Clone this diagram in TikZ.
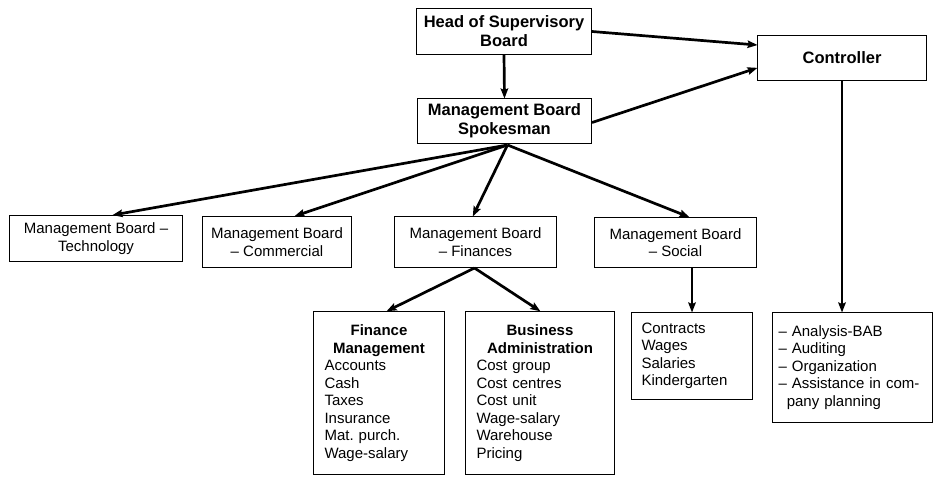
\documentclass[tikz,border=0pt]{standalone}
\usepackage{fontspec}
\setmainfont{Liberation Sans}
\usetikzlibrary{arrows.meta,calc}
\frenchspacing

\tikzset{
  box/.style={draw, line width=1pt, anchor=north west, inner sep=0pt,
    font=\fontsize{15}{17.5}\selectfont, align=center},
  headbox/.style={box, font=\fontsize{16.5}{19}\selectfont\bfseries},
  listbox/.style={draw, line width=1pt, anchor=north west, inner ysep=0pt,
    font=\fontsize{15}{17.5}\selectfont, align=left},
  link/.style={line width=2.7pt, -{Stealth[length=10pt,width=7.5pt,inset=1.5pt]}, shorten >=-0.5pt}
}

\newcommand{\ctitle}[1]{\makebox[\linewidth]{\bfseries #1}}

\begin{document}
\begin{tikzpicture}[x=1pt,y=-1pt]
\useasboundingbox (0,0) rectangle (933,476);

% top level
\node[headbox, minimum width=175pt, minimum height=46pt] (head) at (416,8)
  {Head of Supervisory\\Board};
\node[headbox, minimum width=174pt, minimum height=45pt] (spokes) at (417,98)
  {Management Board\\Spokesman};
\node[headbox, minimum width=169pt, minimum height=45pt] (ctrl) at (757,35)
  {Controller};

% board members
\node[box, minimum width=173pt, minimum height=46pt] (tech) at (9,215)
  {Management Board --\\Technology};
\node[box, minimum width=149pt, minimum height=51pt] (comm) at (202,216)
  {Management Board\\-- Commercial};
\node[box, minimum width=162pt, minimum height=51pt] (fin) at (394,216)
  {Management Board\\-- Finances};
\node[box, minimum width=162pt, minimum height=50pt] (soc) at (594,217)
  {Management Board\\-- Social};

% departments
\node[listbox, inner xsep=11pt, text width=109pt, minimum height=163pt] (finm) at (313,311)
  {\ctitle{Finance}\\\ctitle{Management}\\Accounts\\Cash\\Taxes\\Insurance\\Mat. purch.\\Wage-salary};
\node[listbox, inner xsep=11pt, text width=127pt, minimum height=163pt] (busa) at (465,311)
  {\ctitle{Business}\\\ctitle{Administration}\\Cost group\\Cost centres\\Cost unit\\Wage-salary\\Warehouse\\Pricing};
\node[listbox, inner xsep=10pt, text width=101pt, minimum height=87pt] (contr) at (631,312)
  {Contracts\\Wages\\Salaries\\Kindergarten};
\node[listbox, inner xsep=6pt, text width=147.5pt, minimum height=110pt] (ctrll) at (772,312)
  {-- Analysis-BAB\\-- Auditing\\-- Organization\\-- Assistance in com-\\\hspace*{8.3pt}pany planning};

% connectors
\coordinate (hub) at ($(spokes.south)+(3,1)$);
\coordinate (finhub) at ($(fin.south)+(-1,0)$);

\draw[link] (head.south) -- (spokes.north);
\draw[link] (head.east) -- ($(ctrl.north west)+(0,10)$);
\draw[link] ($(spokes.east)+(0,1.5)$) -- ($(ctrl.south west)+(0,-13)$);

\draw[link] (hub) -- ($(tech.north west)+(104,0)$);
\draw[link] (hub) -- ($(comm.north west)+(93,0)$);
\draw[link] (hub) -- ($(fin.north west)+(79,0)$);
\draw[link] (hub) -- ($(soc.north west)+(95,0)$);

\draw[link] (finhub) -- ($(finm.north west)+(74,0)$);
\draw[link] (finhub) -- (busa.north);

\draw[link] (contr.north |- soc.south) -- (contr.north);
\draw[link] (ctrl.south) -- (ctrl.south |- ctrll.north);
\end{tikzpicture}
\end{document}
